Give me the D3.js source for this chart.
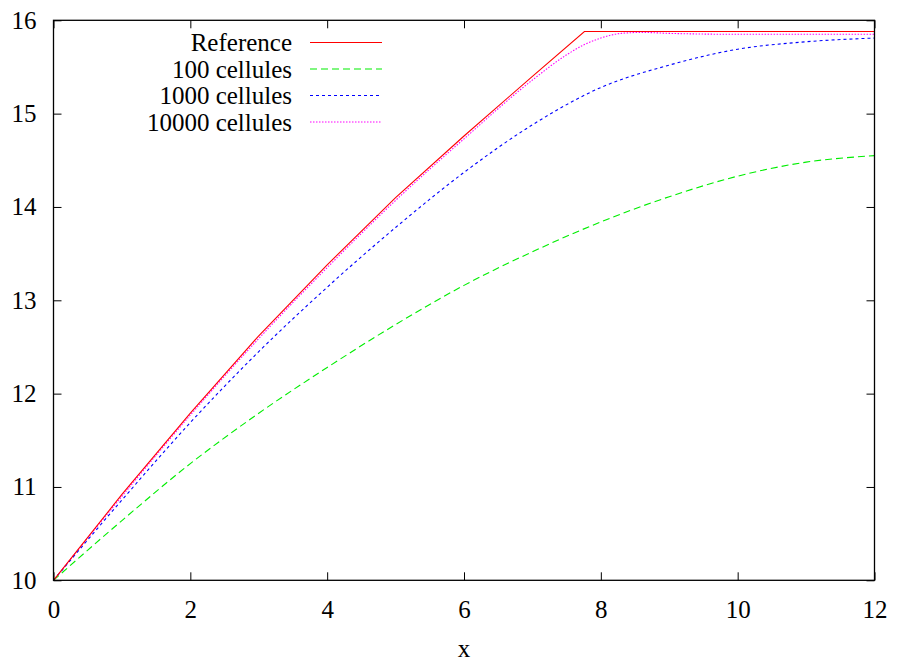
<!DOCTYPE html>
<html>
<head>
<meta charset="utf-8">
<script src="https://cdn.jsdelivr.net/npm/d3@7"></script>
<style>
  html, body { margin: 0; padding: 0; background: #fff; }
  svg { display: block; }
</style>
</head>
<body>
<svg id="chart" width="897" height="662"></svg>
<script>
// ---- Data ----
const xTicks = [0, 2, 4, 6, 8, 10, 12];
const yTicks = [10, 11, 12, 13, 14, 15, 16];
const xLabel = "x";

const seriesNames = ["Reference", "100 cellules", "1000 cellules", "10000 cellules"];
const seriesColors = ["#ff0000", "#00ee00", "#0000ff", "#ff00ff"];

const refX = [0, 1, 2, 3, 4, 5, 6, 7, 7.76, 12];
const refY = [10, 10.92, 11.79, 12.62, 13.38, 14.10, 14.76, 15.40, 15.88, 15.88];

const c100X = [0, 1, 2, 3, 4, 5, 6, 7, 8, 9, 10, 11, 12];
const c100Y = [10, 10.64, 11.25, 11.79, 12.28, 12.74, 13.16, 13.52, 13.84, 14.11, 14.33, 14.48, 14.55];

const c1000X = [0, 1, 2, 3, 4, 5, 6, 7, 8, 9, 10, 11, 12];
const c1000Y = [10, 10.86, 11.69, 12.45, 13.14, 13.78, 14.37, 14.88, 15.28, 15.52, 15.69, 15.77, 15.81];

const c10000X = [0, 1, 2, 3, 4, 5, 6, 7, 7.5, 7.76, 8, 8.3, 8.6, 9, 10, 12];
const c10000Y = [10, 10.9, 11.77, 12.59, 13.35, 14.07, 14.73, 15.36, 15.63, 15.74, 15.81, 15.86, 15.87, 15.86, 15.85, 15.85];

// ---- Layout ----
const FONT = "'Liberation Serif', 'Times New Roman', Times, 'DejaVu Serif', serif";
const svg = d3.select("#chart");
const pLeft = 53.5, pRight = 874.5, pTop = 20.3, pBottom = 580.3;
const x = d3.scaleLinear().domain([0, 12]).range([pLeft, pRight]);
const y = d3.scaleLinear().domain([10, 16]).range([pBottom, pTop]);
const fontSize = 25;
const tickLen = 8;

const series = [
  {x: refX, y: refY, dash: null, curve: d3.curveLinear},
  {x: c100X, y: c100Y, dash: "7,4", curve: d3.curveMonotoneX},
  {x: c1000X, y: c1000Y, dash: "3,3", curve: d3.curveMonotoneX},
  {x: c10000X, y: c10000Y, dash: "1.5,1.5", curve: d3.curveMonotoneX}
];

svg.append("clipPath").attr("id", "clip")
  .append("rect").attr("x", pLeft).attr("y", pTop - 2)
  .attr("width", pRight - pLeft).attr("height", pBottom - pTop + 2);

[3, 2, 1, 0].forEach(i => {
  const s = series[i];
  const pts = s.x.map((d, k) => [d, s.y[k]]);
  const line = d3.line().x(d => x(d[0])).y(d => y(d[1])).curve(s.curve);
  svg.append("path")
    .attr("clip-path", "url(#clip)")
    .attr("d", line(pts))
    .attr("fill", "none")
    .attr("stroke", seriesColors[i])
    .attr("stroke-width", 1.1)
    .attr("stroke-dasharray", s.dash);
});

const gBottom = svg.append("g").attr("transform", `translate(0,${pBottom})`)
  .call(d3.axisBottom(x).tickValues(xTicks).tickSize(-tickLen).tickPadding(tickLen + 12).tickFormat(d3.format("d")));
const gTop = svg.append("g").attr("transform", `translate(0,${pTop})`)
  .call(d3.axisTop(x).tickValues(xTicks).tickSize(-tickLen).tickFormat(""));
const gLeft = svg.append("g").attr("transform", `translate(${pLeft},0)`)
  .call(d3.axisLeft(y).tickValues(yTicks).tickSize(-tickLen).tickPadding(tickLen + 9).tickFormat(d3.format("d")));
const gRight = svg.append("g").attr("transform", `translate(${pRight},0)`)
  .call(d3.axisRight(y).tickValues(yTicks).tickSize(-tickLen).tickFormat(""));

[gBottom, gTop, gLeft, gRight].forEach(g => {
  g.attr("font-family", null).attr("font-size", null);
  g.select(".domain").remove();
  g.selectAll(".tick line").attr("stroke", "#000").attr("stroke-width", 1);
  g.selectAll("text").style("font-size", fontSize + "px").style("font-family", FONT).attr("fill", "#000");
});

svg.append("rect")
  .attr("x", pLeft).attr("y", pTop)
  .attr("width", pRight - pLeft).attr("height", pBottom - pTop)
  .attr("fill", "none").attr("stroke", "#000").attr("stroke-width", 1.3);

svg.append("text")
  .attr("x", (pLeft + pRight) / 2).attr("y", 648)
  .attr("text-anchor", "middle").attr("dominant-baseline", "central")
  .style("font-size", fontSize + "px").style("font-family", FONT)
  .text(xLabel);

const legTextX = 292, legLineX1 = 310, legLineX2 = 382, legY0 = 42.5, legDy = 26.5;
seriesNames.forEach((name, i) => {
  const yy = legY0 + i * legDy;
  svg.append("text")
    .attr("x", legTextX).attr("y", yy)
    .attr("text-anchor", "end").attr("dominant-baseline", "central")
    .style("font-size", fontSize + "px").style("font-family", FONT)
    .text(name);
  svg.append("line")
    .attr("x1", legLineX1).attr("x2", legLineX2)
    .attr("y1", yy).attr("y2", yy)
    .attr("stroke", seriesColors[i])
    .attr("stroke-width", 1.1)
    .attr("stroke-dasharray", series[i].dash);
});
</script>
</body>
</html>
